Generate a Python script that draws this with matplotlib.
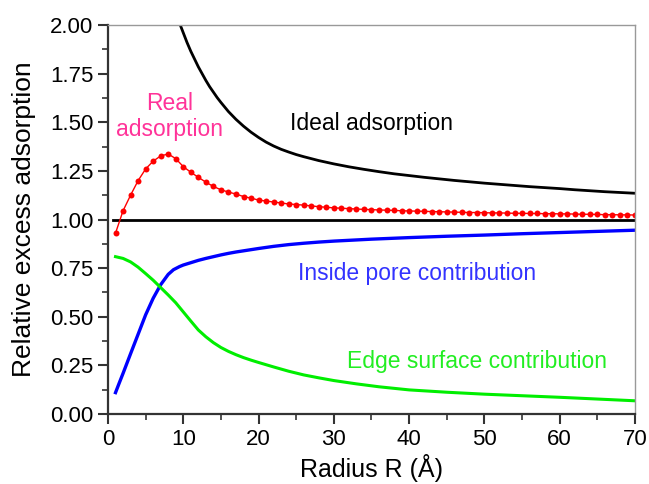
import matplotlib.pyplot as plt
from matplotlib.ticker import MultipleLocator

plt.rcParams['font.family'] = ['Liberation Sans', 'DejaVu Sans']

# ideal adsorption (black)
ideal_r = [9.3, 9.6, 10, 10.5, 11, 11.5, 12, 12.5, 13, 13.5, 14, 14.5, 15, 16, 17, 18, 19, 20,
           21, 22, 23, 24, 25, 26, 28, 30, 32, 34, 36, 38, 40, 42, 44, 46, 48, 50,
           52, 54, 56, 58, 60, 62, 64, 66, 68, 70]
ideal_y = [2.02, 2.0, 1.96, 1.91, 1.865, 1.825, 1.785, 1.75, 1.715, 1.683, 1.655, 1.627, 1.602,
           1.555, 1.515, 1.480, 1.449, 1.422, 1.398, 1.378, 1.361, 1.347, 1.334, 1.323, 1.303,
           1.286, 1.271, 1.258, 1.246, 1.235, 1.226, 1.217, 1.209, 1.201, 1.194, 1.187,
           1.181, 1.175, 1.169, 1.164, 1.159, 1.153, 1.148, 1.143, 1.139, 1.135]

# real adsorption (red dots), R = 1..70
real_r = [1, 2, 3, 4, 5, 6, 7, 8, 9, 10, 11, 12, 13, 14, 15, 16, 17, 18, 19, 20,
          21, 22, 23, 24, 25, 26, 27, 28, 29, 30, 31, 32, 33, 34, 35, 36, 37, 38, 39, 40,
          41, 42, 43, 44, 45, 46, 47, 48, 49, 50, 51, 52, 53, 54, 55, 56, 57, 58, 59, 60,
          61, 62, 63, 64, 65, 66, 67, 68, 69, 70]
real_y = [0.93, 1.045, 1.125, 1.20, 1.26, 1.30, 1.327, 1.337, 1.313, 1.272,
          1.243, 1.217, 1.192, 1.170, 1.153, 1.141, 1.131, 1.118, 1.110, 1.100,
          1.095, 1.090, 1.085, 1.080, 1.077, 1.074, 1.070, 1.066, 1.063, 1.060,
          1.058, 1.056, 1.054, 1.052, 1.051, 1.049, 1.048, 1.047, 1.045, 1.044,
          1.043, 1.042, 1.041, 1.040, 1.039, 1.038, 1.037, 1.036, 1.036, 1.035,
          1.034, 1.034, 1.033, 1.032, 1.032, 1.031, 1.031, 1.030, 1.030, 1.029,
          1.029, 1.028, 1.027, 1.027, 1.026, 1.025, 1.025, 1.024, 1.024, 1.023]

# inside pore contribution (blue)
pore_r = [1, 1.5, 2, 3, 4, 5, 6, 7, 8, 8.7, 9.5, 10, 11, 12, 13, 14, 15, 16, 17, 18, 19, 20,
          22, 24, 26, 28, 30, 35, 40, 45, 50, 55, 60, 65, 70]
pore_y = [0.110, 0.160, 0.209, 0.310, 0.410, 0.510, 0.595, 0.665, 0.718, 0.742, 0.758, 0.766,
          0.778, 0.790, 0.800, 0.809, 0.818, 0.826, 0.833, 0.839, 0.845, 0.851,
          0.862, 0.871, 0.878, 0.884, 0.889, 0.899, 0.907, 0.914, 0.920, 0.927, 0.933,
          0.939, 0.945]

# edge surface contribution (green)
edge_r = [1, 2, 3, 4, 5, 6, 7, 8, 9, 10, 11, 12, 13, 14, 15, 16, 17, 18, 19, 20,
          22, 24, 26, 28, 30, 33, 36, 40, 45, 50, 55, 60, 65, 70]
edge_y = [0.809, 0.800, 0.782, 0.755, 0.722, 0.688, 0.650, 0.612, 0.572, 0.525, 0.478, 0.432,
          0.397, 0.367, 0.342, 0.322, 0.305, 0.290, 0.277, 0.265, 0.242, 0.220, 0.201, 0.186,
          0.172, 0.155, 0.140, 0.124, 0.112, 0.102, 0.094, 0.086, 0.077, 0.068]

fig = plt.figure(figsize=(6.49, 4.84), dpi=100)
ax = fig.add_axes([0.1664, 0.1446, 0.812, 0.8037])

ax.plot(ideal_r, ideal_y, color='black', lw=2.0)
ax.plot([0.7, 70], [1.0, 1.0], color='black', lw=2.0)
ax.plot(real_r, real_y, color='#ff0000', lw=1.0, marker='o', ms=4.3, mec='none')
ax.plot(pore_r, pore_y, color='#0000ff', lw=2.4)
ax.plot(edge_r, edge_y, color='#00ee00', lw=2.2)

ax.text(8.2, 1.53, 'Real\nadsorption', color='#ff3399', fontsize=16.5, ha='center',
        va='center', linespacing=1.15)
ax.text(24.2, 1.495, 'Ideal adsorption', color='black', fontsize=16.5, va='center')
ax.text(25.2, 0.723, 'Inside pore contribution', color='#3333ff', fontsize=16.5, va='center')
ax.text(31.7, 0.269, 'Edge surface contribution', color='#22ee22', fontsize=16.5, va='center')

ax.set_xlim(0, 70)
ax.set_ylim(0, 2.0)
ax.xaxis.set_major_locator(MultipleLocator(10))
ax.xaxis.set_minor_locator(MultipleLocator(5))
ax.yaxis.set_major_locator(MultipleLocator(0.25))
ax.yaxis.set_minor_locator(MultipleLocator(0.125))
ax.yaxis.set_major_formatter(plt.FormatStrFormatter('%.2f'))
ax.tick_params(which='major', direction='out', length=7, width=1.5, labelsize=16, color='#333333')
ax.tick_params(which='minor', direction='out', length=4, width=1.2, color='#333333')
ax.tick_params(top=False, right=False)

for s in ['left', 'bottom']:
    ax.spines[s].set_color('#333333')
    ax.spines[s].set_linewidth(1.6)
for s in ['top', 'right']:
    ax.spines[s].set_color('#999999')
    ax.spines[s].set_linewidth(1.0)

ax.set_xlabel('Radius R (Å)', fontsize=18, labelpad=3)
ax.set_ylabel('Relative excess adsorption', fontsize=19, labelpad=10)

plt.savefig('out.png', dpi=100)
